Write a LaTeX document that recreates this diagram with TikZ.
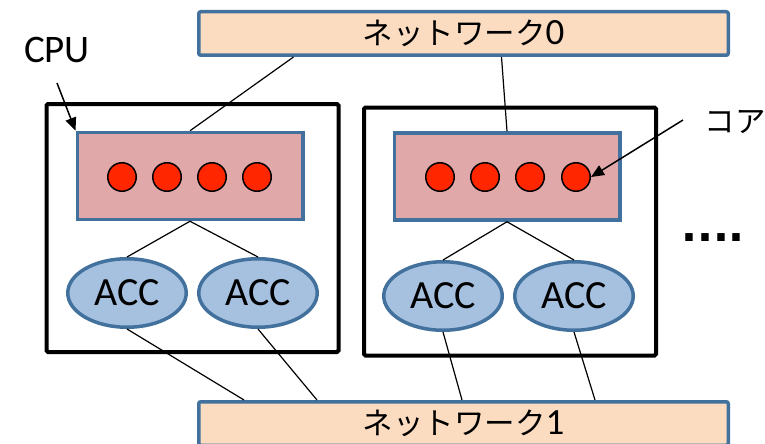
\documentclass[tikz,border=0pt]{standalone}
\usepackage{fontspec}
\setmainfont{Carlito}
\newfontfamily\jpfont{Noto Sans CJK JP}
\newfontfamily\dotfont{DejaVu Sans}
\usetikzlibrary{shapes.geometric, arrows.meta}
\definecolor{netfill}{RGB}{251,220,193}
\definecolor{edgeblue}{RGB}{66,113,157}
\definecolor{cpufill}{RGB}{224,168,168}
\definecolor{accfill}{RGB}{166,192,224}
\definecolor{corered}{RGB}{255,38,0}

\begin{document}
\begin{tikzpicture}[x=1pt, y=-1pt,
  net/.style={draw=edgeblue, fill=netfill, line width=3.5pt, rounded corners=2pt, minimum width=529.5pt, minimum height=43.5pt, inner sep=0pt, font=\fontsize{37}{40}\selectfont},
  nodebox/.style={draw, line width=4pt, rounded corners=1.5pt, minimum width=292pt, minimum height=248pt},
  cpu/.style={draw=edgeblue, fill=cpufill, line width=3.5pt, minimum width=225.5pt, minimum height=87pt},
  core/.style={circle, draw, fill=corered, line width=1.5pt, minimum size=28.5pt, inner sep=0pt},
  acc/.style={ellipse, draw=edgeblue, fill=accfill, line width=3.5pt, minimum width=118.5pt, minimum height=68.5pt, inner sep=0pt, font=\fontsize{40}{42}\selectfont},
  link/.style={line width=1.2pt},
  pointer/.style={line width=1.5pt, -{Triangle[length=13pt, width=11pt]}}]
\useasboundingbox (0,0) rectangle (765,444);
% ネットワーク・ノード構成図
\node[nodebox] (box1) at (192.5,228) {};
\node[nodebox] (box2) at (510,231.5) {};
\node[cpu] (cpu1) at (190,176) {};
\node[cpu] (cpu2) at (507,176.5) {};
\foreach \i/\x in {1/122, 2/167, 3/212, 4/257, 5/440, 6/485, 7/530, 8/576}
  \node[core] (c\i) at (\x,177) {};
\node[acc] (acc1) at (127,293) {ACC};
\node[acc] (acc2) at (258,293) {ACC};
\node[acc] (acc3) at (443,296) {ACC};
\node[acc] (acc4) at (574,296) {ACC};
\begin{scope}
\clip (0,0) rectangle (765,444);
\node[net] (net0) at (463.5,33.5) {{\jpfont\fontsize{30.5}{32}\selectfont ネットワーク}0};
\node[net] (net1) at (463.5,423.5) {{\jpfont\fontsize{30.5}{32}\selectfont ネットワーク}1};
\end{scope}
\draw[link] ([xshift=-170pt]net0.south) -- (cpu1.north);
\draw[link] ([xshift=38pt]net0.south) -- (cpu2.north);
\draw[link] (cpu1.south) -- (acc1.north);
\draw[link] (cpu1.south) -- (acc2.north);
\draw[link] (cpu2.south) -- (acc3.north);
\draw[link] (cpu2.south) -- (acc4.north);
\draw[link] (acc1.south) -- ([xshift=-219.5pt]net1.north);
\draw[link] (acc2.south) -- ([xshift=-146.5pt]net1.north);
\draw[link] (acc3.south) -- ([xshift=-1.5pt]net1.north);
\draw[link] (acc4.south) -- ([xshift=131.5pt]net1.north);
\node[font=\fontsize{39}{40}\selectfont] (cpulbl) at (57,50) {CPU};
\coordinate (cputail) at (57,83);
\draw[pointer] (cputail) -- (cpu1.north west);
\node[font=\jpfont\fontsize{30.5}{32}\selectfont] (corelbl) at (735,122) {コア};
\coordinate (coretail) at (683,120);
\draw[pointer] (coretail) -- (c8.east);
\node[font=\dotfont\bfseries\fontsize{42}{42}\selectfont, inner sep=0pt] (more) at (713,238) {....};
\end{tikzpicture}
\end{document}
